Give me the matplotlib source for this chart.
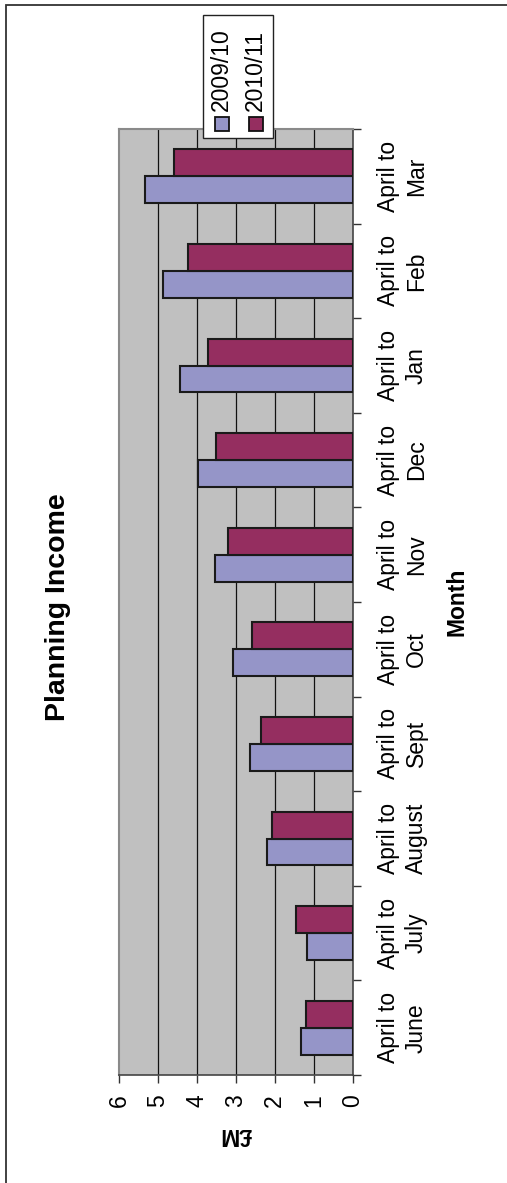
import matplotlib
matplotlib.use("Agg")
import matplotlib.pyplot as plt
from matplotlib.patches import Rectangle
import numpy as np

plt.rcParams['font.family'] = ['Liberation Sans', 'DejaVu Sans']

categories = ["April to\nJune", "April to\nJuly", "April to\nAugust", "April to\nSept",
              "April to\nOct", "April to\nNov", "April to\nDec", "April to\nJan",
              "April to\nFeb", "April to\nMar"]
series_names = ["2009/10", "2010/11"]
values_2009 = [1.33, 1.17, 2.19, 2.64, 3.08, 3.53, 3.97, 4.42, 4.88, 5.32]
values_2010 = [1.20, 1.44, 2.06, 2.36, 2.59, 3.20, 3.50, 3.71, 4.23, 4.58]
value_ticks = [0, 1, 2, 3, 4, 5, 6]

colors = ["#9595C8", "#952E60"]

W, H = 507, 1183
fig = plt.figure(figsize=(W / 100, H / 100), dpi=100)

# outer chart frame
fig.add_artist(Rectangle((6 / W, -0.05), 1.2, 1 - 5 / H + 0.05, transform=fig.transFigure,
                         fill=False, edgecolor="#333333", linewidth=1.3))

left, right, top, bottom = 119, 352.5, 129, 1075
ax = fig.add_axes([left / W, 1 - bottom / H, (right - left) / W, (bottom - top) / H])
ax.set_facecolor("#C0C0C0")

y = np.arange(len(categories))
h = 0.285
ax.barh(y - h / 2, values_2009, height=h, color=colors[0], edgecolor="#1a1a1a", linewidth=1.5, zorder=3)
ax.barh(y + h / 2, values_2010, height=h, color=colors[1], edgecolor="#1a1a1a", linewidth=1.5, zorder=3)

ax.set_xlim(6, 0)
ax.set_ylim(-0.5, len(categories) - 0.5)

ax.set_xticks(value_ticks)
ax.set_xticklabels([str(v) for v in value_ticks], rotation=90, fontsize=16.5)
ax.tick_params(axis='x', direction='out', length=6, width=1, color="#333333", pad=8)
for v in value_ticks[1:-1]:
    ax.axvline(v, color="#111111", linewidth=0.9, zorder=1)

ax.yaxis.tick_right()
ax.set_yticks(np.arange(-0.5, len(categories), 1.0))
ax.set_yticklabels([])
ax.set_yticks(y, minor=True)
ax.set_yticklabels(categories, minor=True, rotation=90, fontsize=16.5,
                   va='center', ha='left', multialignment='center', linespacing=1.25)
ax.tick_params(axis='y', which='major', direction='out', length=6, width=1, color="#333333")
ax.tick_params(axis='y', which='minor', length=0, pad=18)

for s in ['left', 'top']:
    ax.spines[s].set_color("#8a8a8a")
    ax.spines[s].set_linewidth(1.5)
for s in ['right', 'bottom']:
    ax.spines[s].set_color("#444444")
    ax.spines[s].set_linewidth(1.2)

ax.set_xlabel("£M", fontsize=16.5, fontweight='bold', rotation=180)
ax.xaxis.label.set_va('center')
ax.xaxis.set_label_coords(0.5, -(1134 - bottom) / (bottom - top))

ax.yaxis.set_label_position('right')
ax.set_ylabel("Month", fontsize=16.5, fontweight='bold', rotation=90)
ax.yaxis.label.set_va('center')
ax.yaxis.set_label_coords((457 - left) / (right - left), 0.5)

fig.text(58 / W, 1 - 607 / H, "Planning Income", rotation=90, fontsize=20.5, fontweight='bold',
         ha='center', va='center')

# legend
fig.add_artist(Rectangle((203 / W, 1 - 138 / H), 70 / W, 123 / H, transform=fig.transFigure,
                         facecolor="white", edgecolor="#222222", linewidth=1.0, zorder=5))
for xc, name, col in zip([221.7, 255.8], series_names, colors):
    fig.add_artist(Rectangle(((xc - 7) / W, 1 - 131 / H), 14 / W, 14 / H, transform=fig.transFigure,
                             facecolor=col, edgecolor="#111111", linewidth=1.3, zorder=6))
    fig.text(xc / W, 1 - 111 / H, name, rotation=90, fontsize=16.5, ha='center', va='bottom', zorder=7)

fig.savefig("out.png", dpi=100)
